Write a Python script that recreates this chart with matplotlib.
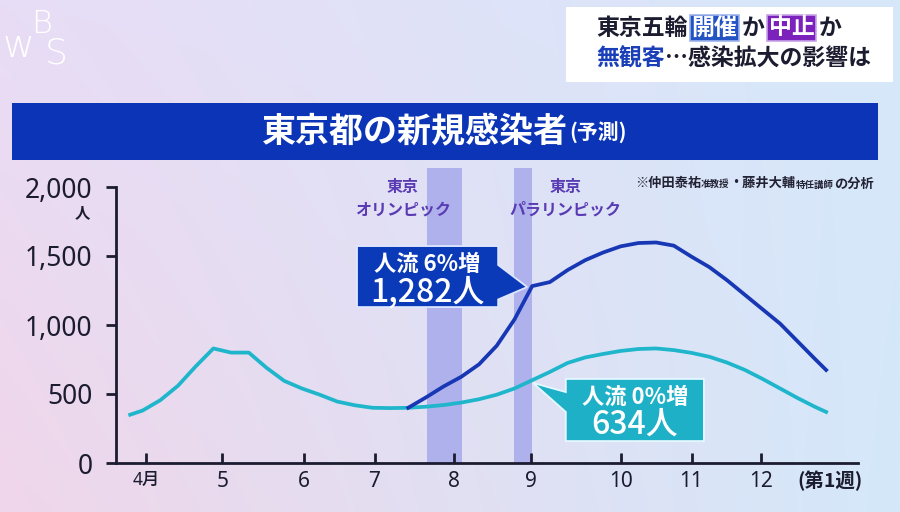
import numpy as np
import matplotlib
matplotlib.use('Agg')
import matplotlib.pyplot as plt
from matplotlib.patches import Rectangle, Polygon

plt.rcParams['font.family'] = ['Noto Sans CJK JP', 'DejaVu Sans']

# ---------------- data ----------------
base_weeks = [-0.7] + list(range(0, 39)) + [38.6]
base_values = [350, 380, 455, 560, 700, 830, 800, 800, 690, 595, 540, 495, 445, 418, 400, 398,
               400, 408, 420, 438, 462, 495, 540, 600, 660, 725, 765, 790, 812, 826, 830,
               818, 798, 770, 728, 675, 610, 540, 470, 405, 370]
flow_weeks = list(range(15, 39)) + [38.6]
flow_values = [400, 475, 555, 625, 715, 850, 1040, 1282, 1311, 1398, 1470, 1525, 1570, 1594,
               1598, 1575, 1495, 1420, 1325, 1220, 1115, 1010, 880, 750, 674]
month_ticks = [0.2, 4.5, 9.1, 13.1, 17.6, 21.95, 27.0, 31.0, 34.95]
month_labels = ['4月', '5', '6', '7', '8', '9', '10', '11', '12']
y_ticks = [0, 500, 1000, 1500, 2000]
y_labels = ['0', '500', '1,000', '1,500', '2,000']
olympic_span = (16.05, 18.05)
para_span = (20.98, 22.0)

DARK = '#1c1c30'
BLUE = '#1737b4'
CYAN = '#1fb6cb'
BAND = '#aeb1ec'
PURPLE = '#5a3bb4'

fig = plt.figure(figsize=(9, 5.12), dpi=100)

# background gradient
bg = fig.add_axes([0, 0, 1, 1], zorder=-10)
tl = np.array([232, 221, 246]) / 255
tr = np.array([214, 232, 250]) / 255
bl = np.array([240, 214, 234]) / 255
br = np.array([212, 232, 250]) / 255
u = np.linspace(0, 1, 200)[None, :, None]
v = np.linspace(0, 1, 120)[:, None, None]
img = (1 - v) * ((1 - u) * tl + u * tr) + v * ((1 - u) * bl + u * br)
bg.imshow(img, aspect='auto', extent=[0, 1, 0, 1], interpolation='bilinear')
bg.set_xlim(0, 1); bg.set_ylim(0, 1)
bg.axis('off')

# overlay axes in pixel units for page furniture
ov = fig.add_axes([0, 0, 1, 1], zorder=10)
ov.set_xlim(0, 900); ov.set_ylim(512, 0)
ov.axis('off')
ov.patch.set_alpha(0)

# WBS logo
ov.text(18, 46, 'w', color='white', fontsize=28, family='DejaVu Sans', weight='ultralight', ha='center', va='center')
ov.text(42, 24, 'B', color='white', fontsize=23, family='DejaVu Sans', weight='ultralight', ha='center', va='center')
ov.text(56, 53, 'S', color='white', fontsize=26, family='DejaVu Sans', weight='ultralight', ha='center', va='center')

# headline box (top right)
ov.add_patch(Rectangle((566, 7), 327, 75, facecolor='white', edgecolor='none'))
hl_fs = 16.5
a1 = ov.text(596, 28, '東京五輪', fontsize=hl_fs, weight='bold', color=DARK, va='center', ha='left')
a2 = ov.annotate('開催', xy=(1, 0.5), xycoords=a1, xytext=(3, 0), textcoords='offset points',
                 fontsize=hl_fs, weight='bold', color='white', va='center', ha='left',
                 bbox=dict(boxstyle='square,pad=0.08', fc='#2453c4', ec='#9db4ee', lw=1.2))
a3 = ov.annotate('か', xy=(1, 0.5), xycoords=a2, xytext=(3, 0), textcoords='offset points',
                 fontsize=hl_fs, weight='bold', color=DARK, va='center', ha='left')
a4 = ov.annotate('中止', xy=(1, 0.5), xycoords=a3, xytext=(3, 0), textcoords='offset points',
                 fontsize=hl_fs, weight='bold', color='white', va='center', ha='left',
                 bbox=dict(boxstyle='square,pad=0.08', fc='#7a22bb', ec='#c9a3ea', lw=1.2))
a5 = ov.annotate('か', xy=(1, 0.5), xycoords=a4, xytext=(3, 0), textcoords='offset points',
                 fontsize=hl_fs, weight='bold', color=DARK, va='center', ha='left')
b1 = ov.text(596, 59, '無観客', fontsize=hl_fs, weight='bold', color='#1a3fb8', va='center', ha='left')
b2 = ov.annotate('…感染拡大の影響は', xy=(1, 0.5), xycoords=b1, xytext=(0, 0), textcoords='offset points',
                 fontsize=hl_fs, weight='bold', color=DARK, va='center', ha='left')

# title bar
ov.add_patch(Rectangle((12, 103), 866, 57, facecolor='#0b34b6', edgecolor='none', zorder=0))
c1 = ov.text(262, 132, '東京都の新規感染者', fontsize=24.5, weight='bold', color='white', va='center', ha='left')
c2 = ov.annotate('(予測)', xy=(1, 0.5), xycoords=c1, xytext=(1, -1), textcoords='offset points',
                 fontsize=15, weight='bold', color='white', va='center', ha='left')

# ---------------- main axes ----------------
ax = fig.add_axes([116 / 900, 1 - 463 / 512, (858 - 116) / 900, (463 - 187) / 512])
ax.set_facecolor('none')
ax.set_xlim(-1.5, 40.4)
ax.set_ylim(0, 2000)

for span in (olympic_span, para_span):
    ax.add_patch(Rectangle((span[0], 0), span[1] - span[0], 2140, facecolor=BAND,
                           edgecolor='none', clip_on=False, zorder=1))

ax.plot(base_weeks, base_values, color=CYAN, lw=2.7, zorder=3, solid_joinstyle='round')
ax.plot(flow_weeks, flow_values, color=BLUE, lw=2.7, zorder=4, solid_joinstyle='round')

for s in ['top', 'right']:
    ax.spines[s].set_visible(False)
for s in ['left', 'bottom']:
    ax.spines[s].set_color(DARK)
    ax.spines[s].set_linewidth(2)

ax.set_yticks(y_ticks)
ax.set_yticklabels(y_labels, family=['Noto Sans', 'DejaVu Sans'], fontsize=19, weight='medium', color=DARK)
ax.tick_params(axis='y', direction='out', length=7, width=2, color=DARK, pad=10)
ax.set_xticks(month_ticks)
ax.set_xticklabels(month_labels, family=['Noto Sans', 'Noto Sans CJK JP'], fontsize=15, weight='medium', color=DARK)
ax.get_xticklabels()[0].set_fontsize(12.5)
ax.tick_params(axis='x', direction='in', length=7, width=2, color=DARK, pad=6)

ax.text(-3.4, 1820, '人', fontsize=11, weight='bold', color=DARK, ha='center', va='center')
ax.text(37.0, -130, '(第1週)', fontsize=14, weight='bold', color=DARK, ha='left', va='center')

# event labels
ax.text(14.7, 2000, '東京', fontsize=11.5, weight='bold', color=PURPLE, ha='center', va='center')
ax.text(14.7, 1835, 'オリンピック', fontsize=11.5, weight='bold', color=PURPLE, ha='center', va='center')
ax.text(23.9, 2000, '東京', fontsize=11.5, weight='bold', color=PURPLE, ha='center', va='center')
ax.text(23.9, 1835, 'パラリンピック', fontsize=11.5, weight='bold', color=PURPLE, ha='center', va='center')

# source note
NC = '#222233'
n1 = ax.text(27.8, 2030, '※仲田泰祐', fontsize=9.5, weight='bold', color=NC, ha='left', va='center')
n2 = ax.annotate('准教授', xy=(1, 0.4), xycoords=n1, xytext=(0, 0), textcoords='offset points',
                 fontsize=6.8, weight='bold', color=NC, ha='left', va='center', annotation_clip=False)
n3 = ax.annotate('・藤井大輔', xy=(1, 0.6), xycoords=n2, xytext=(0, 0), textcoords='offset points',
                 fontsize=9.5, weight='bold', color=NC, ha='left', va='center', annotation_clip=False)
n4 = ax.annotate('特任講師', xy=(1, 0.4), xycoords=n3, xytext=(0, 0), textcoords='offset points',
                 fontsize=6.8, weight='bold', color=NC, ha='left', va='center', annotation_clip=False)
n5 = ax.annotate('の分析', xy=(1, 0.6), xycoords=n4, xytext=(0, 0), textcoords='offset points',
                 fontsize=9.5, weight='bold', color=NC, ha='left', va='center', annotation_clip=False)

# callouts
k = flow_weeks.index(22)
tip = (flow_weeks[k] - 0.28, flow_values[k] - 7)
bx0, bx1, by0, by1 = 12.11, 20.08, 1130, 1572
ax.add_patch(Polygon([(bx0, by1), (bx1, by1), (bx1, 1435), tip, (bx1, 1185), (bx1, by0), (bx0, by0)],
                     closed=True, facecolor='#0b3ab8', edgecolor='#dfe6ff', lw=1.3, zorder=6, clip_on=False))
ax.text((bx0 + bx1) / 2, 1440, '人流 6%増', fontsize=16, weight='bold', color='white', ha='center', va='center', zorder=7)
ax.text((bx0 + bx1) / 2, 1240, '1,282人', fontsize=23, weight='medium', color='white', ha='center', va='center', zorder=7)

kb = base_weeks.index(22)
tip2 = (base_weeks[kb] + 0.05, base_values[kb] - 20)
cx0, cx1, cy0, cy1 = 23.9, 31.7, 159, 609
ax.add_patch(Polygon([(cx0, cy1), (cx1, cy1), (cx1, cy0), (cx0, cy0), (cx0, 370), tip2, (cx0, 514)],
                     closed=True, facecolor='#1eb0c7', edgecolor='#e6f8ff', lw=1.3, zorder=6, clip_on=False))
ax.text((cx0 + cx1) / 2, 475, '人流 0%増', fontsize=16, weight='bold', color='white', ha='center', va='center', zorder=7)
ax.text((cx0 + cx1) / 2, 275, '634人', fontsize=23, weight='medium', color='white', ha='center', va='center', zorder=7)

fig.savefig('out.png', dpi=100)
